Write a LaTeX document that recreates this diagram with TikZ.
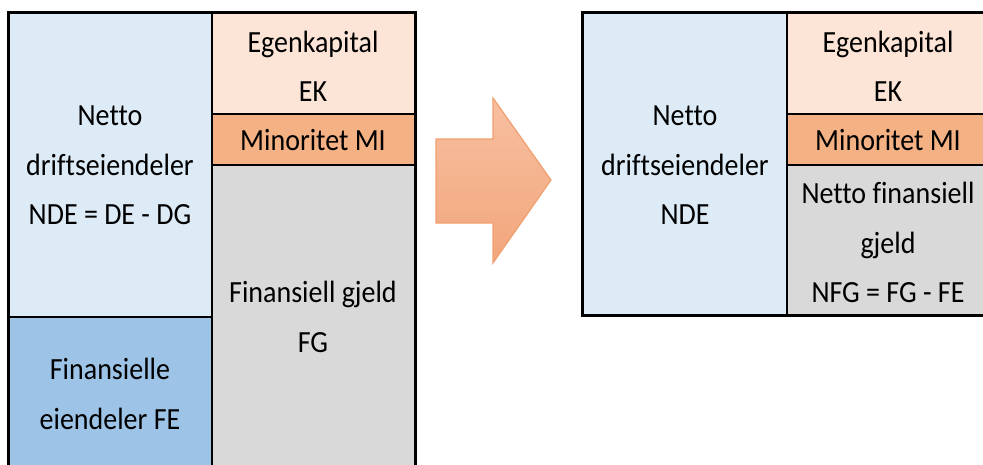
\documentclass[tikz,border=0pt]{standalone}
\usepackage{fontspec}
\usepackage{graphicx}
\setmainfont[Ligatures=NoCommon]{Carlito}
\definecolor{opblue}{HTML}{DDEBF7}
\definecolor{finblue}{HTML}{9DC3E6}
\definecolor{eqpeach}{HTML}{FCE4D6}
\definecolor{minorange}{HTML}{F4B183}
\definecolor{debtgray}{HTML}{D9D9D9}
\definecolor{arrowedge}{HTML}{F0A070}
\definecolor{arrowtop}{HTML}{F7BFA0}
\definecolor{arrowbot}{HTML}{F2A67C}
% slightly tall cell text, one line every 50pt
\newcommand{\celltext}[1]{\scalebox{1}[1.1]{\fontsize{28}{45.45}\selectfont\begin{tabular}{@{}c@{}}#1\end{tabular}}}
\tikzset{
  inner/.style={draw=black, line width=1.4pt},
  outer/.style={draw=black, line width=3pt},
  label/.style={text=black, inner sep=0pt}
}
\begin{document}
\begin{tikzpicture}[x=1pt, y=-1pt]
\useasboundingbox (0,0) rectangle (983,464);
\begin{scope}
\clip (0,0) rectangle (983,464);
% balance before the restatement
\fill[opblue]    (8,12) rectangle (212,317);
\fill[finblue]   (8,317) rectangle (212,480);
\fill[eqpeach]   (212,12) rectangle (415,114);
\fill[minorange] (212,114) rectangle (415,165);
\fill[debtgray]  (212,165) rectangle (415,480);
\draw[inner] (212,12) -- (212,480);
\draw[inner] (8,317) -- (212,317);
\draw[inner] (212,114) -- (415,114);
\draw[inner] (212,165) -- (415,165);
\draw[outer] (8,480) -- (8,12) -- (415,12) -- (415,480);

% balance after the restatement
\fill[opblue]    (582,12) rectangle (787,315);
\fill[eqpeach]   (787,12) rectangle (995,114);
\fill[minorange] (787,114) rectangle (995,165);
\fill[debtgray]  (787,165) rectangle (995,315);
\draw[inner] (787,12) -- (787,315);
\draw[inner] (787,114) -- (995,114);
\draw[inner] (787,165) -- (995,165);
\draw[outer] (995,12) -- (582,12) -- (582,315) -- (995,315);
\end{scope}

% labels
\node[label] (nde1) at (110,165) {\celltext{Netto\\driftseiendeler\\NDE = DE - DG}};
\node[label] (fe1)  at (110,394) {\celltext{Finansielle\\eiendeler FE}};
\node[label] (ek1)  at (313,67)  {\celltext{Egenkapital\\EK}};
\node[label] (mi1)  at (313,140) {\celltext{Minoritet MI}};
\node[label] (fg1)  at (313,317) {\celltext{Finansiell gjeld\\FG}};

\node[label] (nde2) at (685,165) {\celltext{Netto\\driftseiendeler\\NDE}};
\node[label] (ek2)  at (888,67)  {\celltext{Egenkapital\\EK}};
\node[label] (mi2)  at (888,140) {\celltext{Minoritet MI}};
\node[label] (nfg2) at (888,243) {\celltext{Netto finansiell\\gjeld\\NFG = FG - FE}};

% block arrow between the two balances
\draw[draw=arrowedge, line width=1.2pt, top color=arrowtop, bottom color=arrowbot]
  (436,139) -- (493,139) -- (493,98) -- (551,180) -- (493,263) -- (493,223) -- (436,223) -- cycle;
\end{tikzpicture}
\end{document}
